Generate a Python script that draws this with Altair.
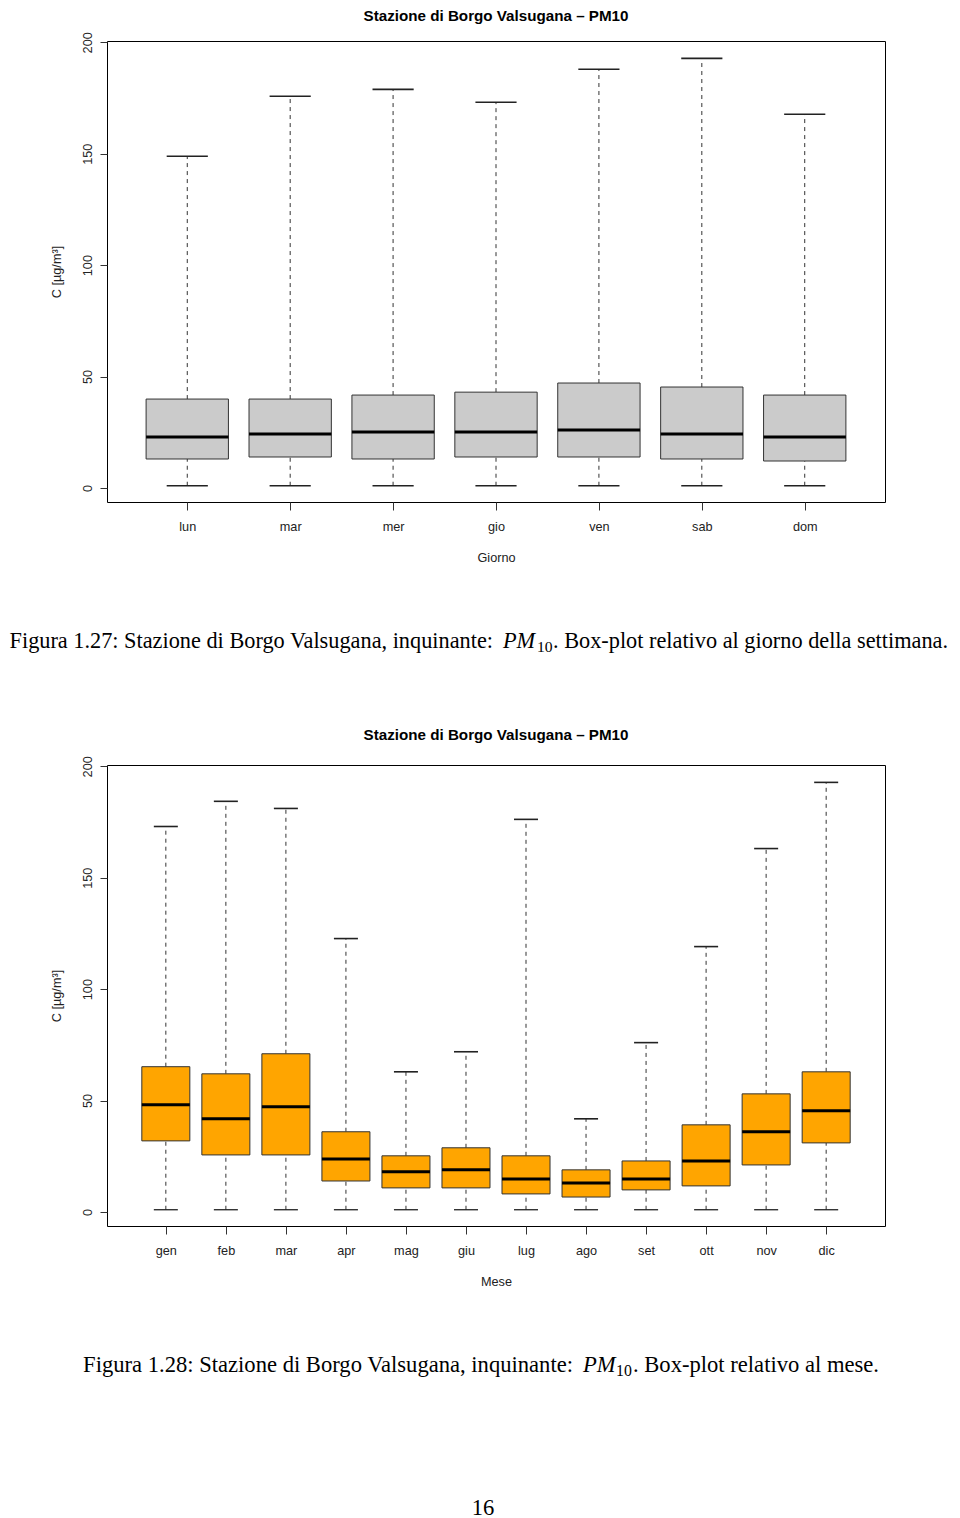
import altair as alt
import pandas as pd

# ---------------- data ----------------
days = ["lun", "mar", "mer", "gio", "ven", "sab", "dom"]
day_lower = [1, 1, 1, 1, 1, 1, 1]
day_q1 = [13.0, 13.9, 13.0, 13.9, 13.9, 13.0, 12.1]
day_median = [22.9, 24.2, 25.1, 25.1, 26.0, 24.2, 22.9]
day_q3 = [39.9, 39.9, 41.7, 43.0, 47.1, 45.3, 41.7]
day_upper = [148.9, 175.8, 178.9, 173.1, 187.9, 192.8, 167.7]

months = ["gen", "feb", "mar", "apr", "mag", "giu", "lug", "ago", "set", "ott", "nov", "dic"]
mon_lower = [1, 1, 1, 1, 1, 1, 1, 1, 1, 1, 1, 1]
mon_q1 = [31.9, 25.6, 25.6, 13.9, 10.8, 10.8, 8.1, 6.7, 9.9, 11.7, 21.1, 31.0]
mon_median = [48.1, 41.8, 47.2, 23.8, 18.0, 18.9, 14.8, 13.0, 14.8, 22.9, 36.0, 45.4]
mon_q3 = [65.2, 62.0, 71.0, 36.0, 25.2, 28.8, 25.2, 18.9, 22.9, 39.1, 53.0, 62.9]
mon_upper = [173.0, 184.3, 181.1, 122.7, 62.9, 71.9, 176.2, 41.8, 76.0, 119.1, 163.1, 192.8]

y_ticks = [0, 50, 100, 150, 200]
y_domain = [-6.3, 200.6]

plot_title = "Stazione di Borgo Valsugana – PM10"
y_title = "C [µg/m³]"

cap1 = ["Figura 1.27: Stazione di Borgo Valsugana, inquinante:", "PM", "10",
        ". Box-plot relativo al giorno della settimana."]
cap2 = ["Figura 1.28: Stazione di Borgo Valsugana, inquinante:", "PM", "10",
        ". Box-plot relativo al mese."]
page_no = "16"

SANS = "Liberation Sans"
SERIF = "Liberation Serif"
W, H = 778, 461


def txt(text, x, y, size, style="normal", align="left"):
    return alt.Chart(pd.DataFrame({"t": [text]})).mark_text(
        align=align, baseline="alphabetic", font=SERIF, fontSize=size,
        fontStyle=style, color="black"
    ).encode(x=alt.value(x), y=alt.value(y), text="t:N")


def caption(parts, xa_end, x_pm, x_sub, x_rest, y, fs):
    return [
        txt(parts[0], xa_end, y, fs, align="right"),
        txt(parts[1], x_pm, y, fs, style="italic"),
        txt(parts[2], x_sub, y + 4, fs * 0.7),
        txt(parts[3], x_rest, y, fs),
    ]


def panel(cats, lower, q1, med, q3, upper, fill, xtitle, extra, title_offset):
    n = len(cats)
    df = pd.DataFrame({"cat": cats, "pos": list(range(1, n + 1)), "lower": lower,
                       "q1": q1, "median": med, "q3": q3, "upper": upper})
    base = alt.Chart(df).transform_calculate(
        x_lo="datum.pos - 0.4", x_hi="datum.pos + 0.4",
        c_lo="datum.pos - 0.2", c_hi="datum.pos + 0.2")
    ext = 0.04 * n
    xs = alt.Scale(domain=[0.5 - ext, n + 0.5 + ext], nice=False, zero=False)
    ys = alt.Scale(domain=y_domain, nice=False, zero=False)
    label_expr = "[" + ",".join("'%s'" % c for c in cats) + "][datum.value - 1]"
    xaxis = alt.Axis(values=list(range(1, n + 1)), labelExpr=label_expr, title=xtitle,
                     grid=False, domain=False, tickSize=8, tickColor="#333",
                     labelFont=SANS, labelFontSize=12.7, labelColor="#222", labelPadding=10,
                     titleFont=SANS, titleFontSize=12.7, titleFontWeight="normal",
                     titleColor="#222", titlePadding=19)
    yaxis = alt.Axis(values=y_ticks, title=y_title, grid=False, domain=False,
                     tickSize=7, tickColor="#333", labelAngle=-90, labelAlign="center",
                     labelBaseline="bottom", labelPadding=6,
                     labelFont=SANS, labelFontSize=12.7, labelColor="#222",
                     titleFont=SANS, titleFontSize=12.7, titleFontWeight="normal",
                     titleColor="#222", titlePadding=18)

    def X(f):
        return alt.X(f, scale=xs, axis=xaxis)

    def Y(f):
        return alt.Y(f, scale=ys, axis=yaxis)

    box = base.mark_rect(fill=fill, stroke="#333", strokeWidth=1).encode(
        x=X("x_lo:Q"), x2="x_hi:Q", y=Y("q1:Q"), y2="q3:Q")
    wh_up = base.mark_rule(strokeDash=[4, 4], color="#333", strokeWidth=1).encode(
        x=X("pos:Q"), y=Y("q3:Q"), y2="upper:Q")
    wh_lo = base.mark_rule(strokeDash=[4, 4], color="#333", strokeWidth=1).encode(
        x=X("pos:Q"), y=Y("lower:Q"), y2="q1:Q")
    cap_up = base.mark_rule(color="#222", strokeWidth=1.6).encode(
        x=X("c_lo:Q"), x2="c_hi:Q", y=Y("upper:Q"))
    cap_lo = base.mark_rule(color="#222", strokeWidth=1.3).encode(
        x=X("c_lo:Q"), x2="c_hi:Q", y=Y("lower:Q"))
    med_l = base.mark_rule(color="black", strokeWidth=3).encode(
        x=X("x_lo:Q"), x2="x_hi:Q", y=Y("median:Q"))
    return alt.layer(wh_up, wh_lo, box, cap_up, cap_lo, med_l, *extra).properties(
        width=W, height=H,
        title=alt.TitleParams(plot_title, font=SANS, fontSize=15.2, fontWeight="bold",
                              anchor="middle", color="black", offset=title_offset))


c1 = panel(days, day_lower, day_q1, day_median, day_q3, day_upper, "#cbcbcb", "Giorno",
           caption(cap1, 386, 396, 430, 446, 607, 22.3), 8)
c2 = panel(months, mon_lower, mon_q1, mon_median, mon_q3, mon_upper, "#ffa500", "Mese",
           caption(cap2, 466, 476, 509, 526, 607, 22.6) + [txt(page_no, 376, 750, 22.6, align="center")],
           13)

chart = alt.vconcat(c1, c2, spacing=70).properties(padding=0).configure(
    background="white").configure_view(stroke="black", strokeWidth=1)

chart.save("out.html", embed_options={"renderer": "svg", "actions": False})
